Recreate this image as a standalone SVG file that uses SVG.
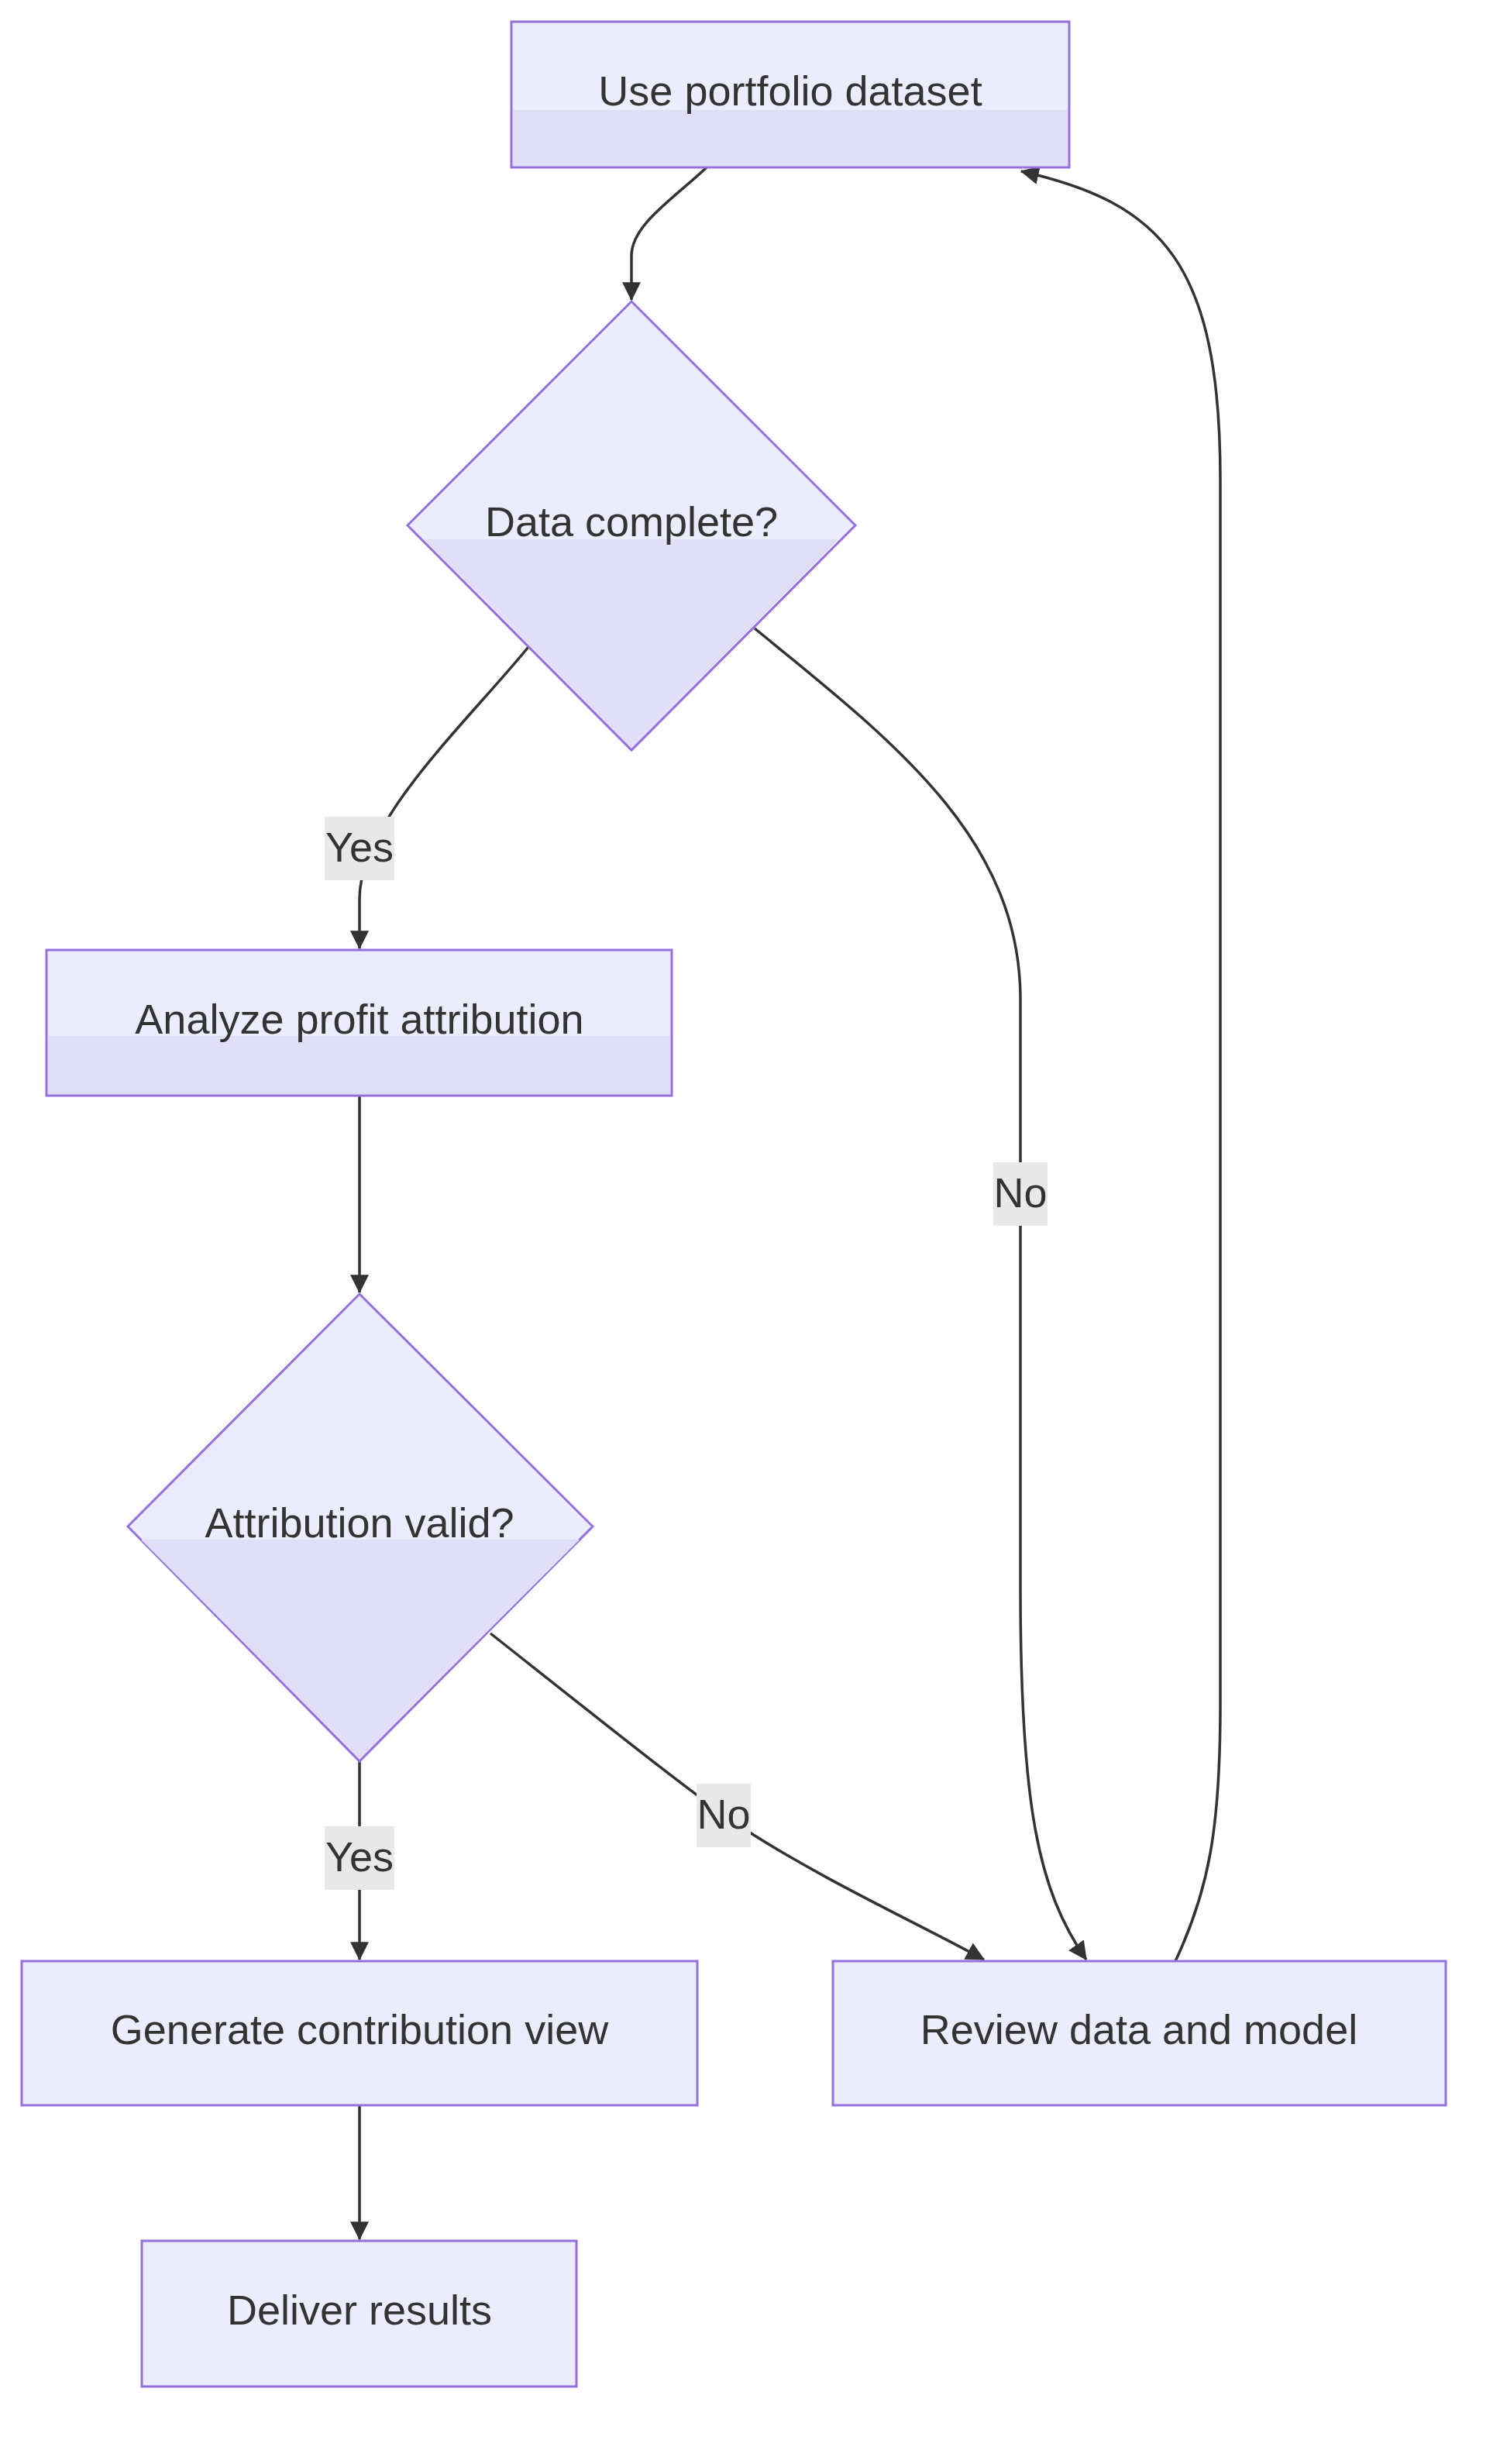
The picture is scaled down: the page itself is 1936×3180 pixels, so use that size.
<svg xmlns="http://www.w3.org/2000/svg" width="1936" height="3180" viewBox="0 0 1936 3180">
<style>
.n{fill:#ECECFF;stroke:#9370DB;stroke-width:3}
.sh{fill:#E1DFF7}
.t{font-family:"Liberation Sans",Arial,sans-serif;font-size:54px;fill:#333;text-anchor:middle;dominant-baseline:central}
.e{fill:none;stroke:#333;stroke-width:3.5;marker-end:url(#ah)}
.lb{fill:#E8E8E8}
</style>
<defs>
<marker id="ah" markerUnits="userSpaceOnUse" markerWidth="24" markerHeight="24" viewBox="0 0 20 20" refX="19" refY="10" orient="auto"><path d="M0,0 L20,10 L0,20 z" fill="#333"/></marker>
</defs>
<rect width="1936" height="3180" fill="#fff"/>
<g id="connectors">
<path class="e" d="M912 216 C870 256 815 290 815 330 L815 387"/>
<path class="e" d="M682 835 C600 935 464 1060 464 1160 L464 1224"/>
<path class="e" d="M974 811 C1150 955 1317 1080 1317 1290 L1317 2050 C1317 2330 1340 2440 1402 2529"/>
<path class="e" d="M464 1414 L464 1668"/>
<path class="e" d="M464 2273 L464 2529"/>
<path class="e" d="M633 2108 C800 2240 900 2320 960 2360 C1060 2425 1180 2480 1270 2529"/>
<path class="e" d="M1517 2531 C1560 2440 1575 2360 1575 2200 L1575 620 C1575 340 1500 262 1318 221"/>
<path class="e" d="M464 2717 L464 2890"/>
<g id="edge-labels">
<rect class="lb" x="419" y="1054" width="90" height="82"/><text class="t" x="464" y="1093">Yes</text>
<rect class="lb" x="1282" y="1500" width="70" height="82"/><text class="t" x="1317" y="1539">No</text>
<rect class="lb" x="419" y="2357" width="90" height="82"/><text class="t" x="464" y="2396">Yes</text>
<rect class="lb" x="899" y="2302" width="70" height="82"/><text class="t" x="934" y="2341">No</text>
</g>
</g>
<g id="n-start">
<rect class="n" x="660" y="28" width="720" height="188"/>
<rect class="sh" x="662" y="142" width="716" height="72"/>
<text class="t" x="1020" y="117">Use portfolio dataset</text>
</g>
<g id="n-d1">
<polygon class="n" points="815,389 1104,678 815,968 526,678"/>
<polygon class="sh" points="548,696 1082,696 815,965"/>
<text class="t" x="815" y="673">Data complete?</text>
</g>
<g id="n-analyze">
<rect class="n" x="60" y="1226" width="807" height="188"/>
<rect class="sh" x="62" y="1337" width="803" height="75"/>
<text class="t" x="464" y="1315">Analyze profit attribution</text>
</g>
<g id="n-d2">
<polygon class="n" points="464,1670 765,1970 464,2273 165,1970"/>
<polygon class="sh" points="182,1987 748,1987 464,2270"/>
<text class="t" x="464" y="1965">Attribution valid?</text>
</g>
<g id="n-generate">
<rect class="n" x="28" y="2531" width="872" height="186"/>
<text class="t" x="464" y="2619">Generate contribution view</text>
</g>
<g id="n-review">
<rect class="n" x="1075" y="2531" width="791" height="186"/>
<text class="t" x="1470" y="2619">Review data and model</text>
</g>
<g id="n-deliver">
<rect class="n" x="183" y="2892" width="561" height="188"/>
<text class="t" x="464" y="2981">Deliver results</text>
</g>
</svg>
